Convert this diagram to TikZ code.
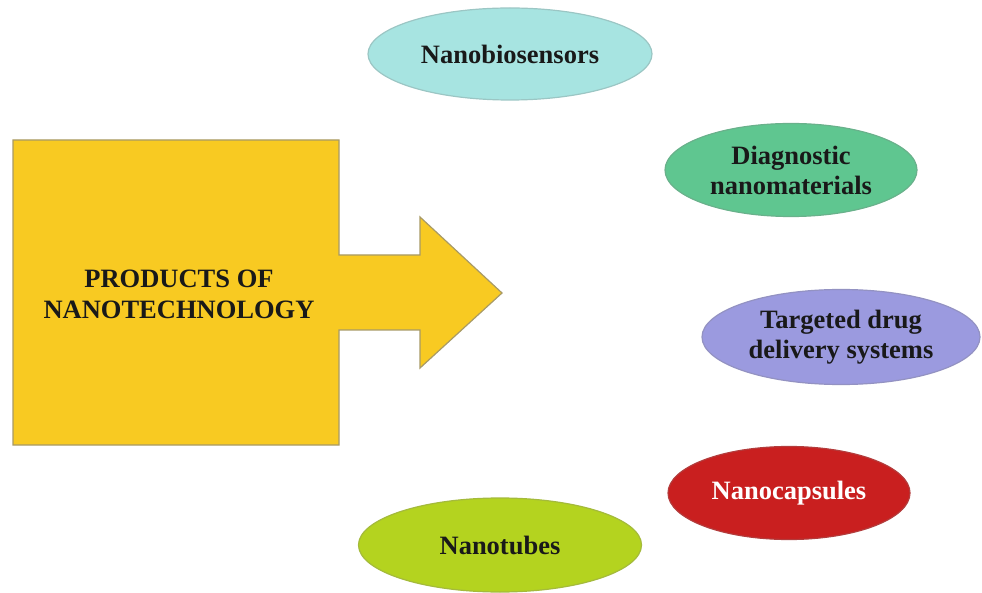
\documentclass[tikz,border=0pt]{standalone}
\usepackage{fontspec}
\setmainfont{Liberation Serif}
\usetikzlibrary{shapes.geometric}
\definecolor{prodyellow}{HTML}{F8CA22}
\definecolor{prodedge}{HTML}{A89A66}
\definecolor{biocyan}{HTML}{A7E4E1}
\definecolor{diaggreen}{HTML}{5FC690}
\definecolor{drugblue}{HTML}{9B9ADF}
\definecolor{capred}{HTML}{C91F1F}
\definecolor{tubegreen}{HTML}{B4D31F}
\tikzset{
      productbox/.style={
        fill=prodyellow,
        draw=prodedge,
        line width=1.2pt
      },
      usebubble/.style={
        ellipse,
        line width=1.2pt,
        inner sep=0pt,
        align=center,
        text=black!90,
        font=\fontsize{26.5}{30}\selectfont\bfseries
      }
    }

\begin{document}
\begin{tikzpicture}[x=1pt,y=-1pt]
    \useasboundingbox (0,0) rectangle (982,593);
    \filldraw[productbox] (13,140) -- (339,140) -- (339,255) -- (420,255) -- (420,217)
      -- (502,293) -- (420,368) -- (420,330) -- (339,330) -- (339,445) -- (13,445) -- cycle;
    \node[align=center, font=\fontsize{26.5}{31}\selectfont\bfseries, text=black!90] (prod) at (179,294) {PRODUCTS OF\\NANOTECHNOLOGY};
    \node[usebubble, fill=biocyan, draw=biocyan!70!gray, minimum width=284pt, minimum height=92pt] (bio) at (510,54) {Nanobiosensors};
    \node[usebubble, fill=diaggreen, draw=diaggreen!70!gray, minimum width=252pt, minimum height=93pt] (diag) at (791,170) {Diagnostic\\nanomaterials};
    \node[usebubble, fill=drugblue, draw=drugblue!70!gray, minimum width=278pt, minimum height=95pt] (drug) at (841,337) {Targeted drug\\delivery systems};
    \node[usebubble, fill=capred, draw=capred!70!gray, text=white, minimum width=242pt, minimum height=93pt] (caps) at (789,493) {Nanocapsules};
    \node[usebubble, fill=tubegreen, draw=tubegreen!70!gray, minimum width=283pt, minimum height=94pt] (tube) at (500,545) {Nanotubes};
    \end{tikzpicture}
\end{document}
